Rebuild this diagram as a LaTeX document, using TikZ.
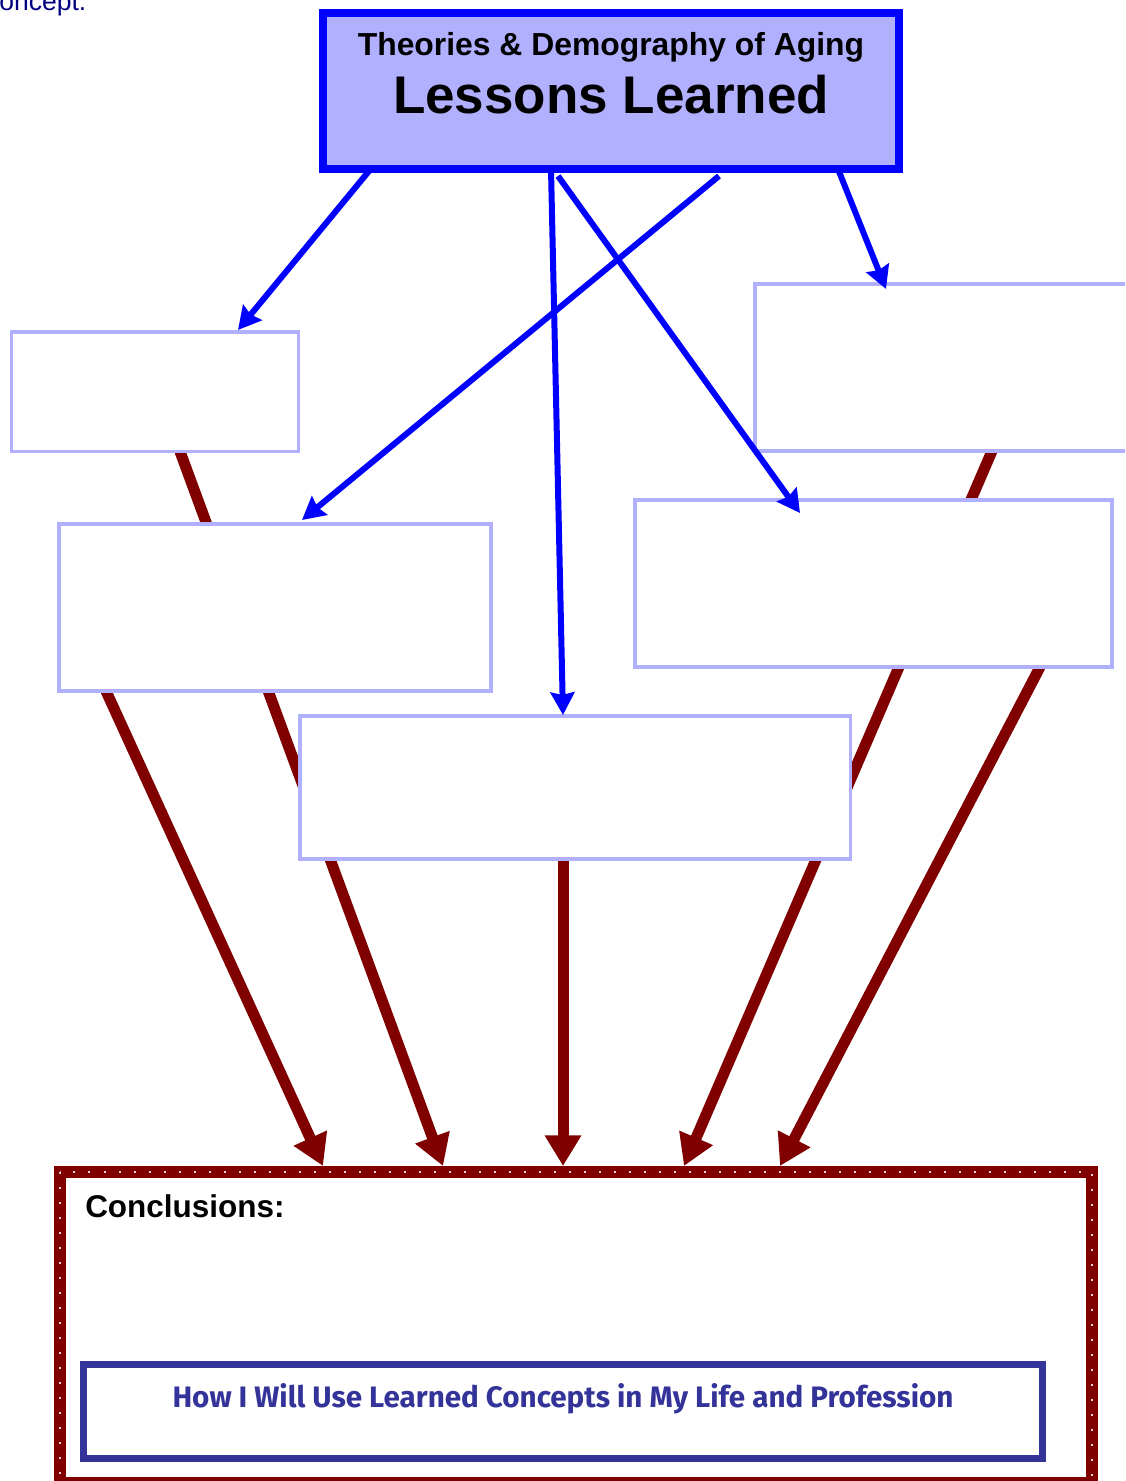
\documentclass[tikz,border=0pt]{standalone}
\usepackage{fontspec}
\setmainfont{Liberation Sans}
\newfontfamily\comicfont{Fira Sans}
\usetikzlibrary{arrows.meta,calc}
\definecolor{lav}{RGB}{176,176,255}
\definecolor{pureblue}{RGB}{0,0,255}
\definecolor{darkred}{RGB}{128,0,0}
\definecolor{navyblue}{RGB}{0,0,128}
\definecolor{indigo}{RGB}{51,51,153}
\definecolor{dotcol}{RGB}{235,205,205}
\pgfdeclarelayer{background}
\pgfsetlayers{background,main}
\begin{document}
\begin{tikzpicture}[x=0.75pt,y=-0.75pt,
  blank/.style={rectangle, draw=lav, line width=2.6pt, fill=white, inner sep=0pt, outer sep=0pt},
  titlebox/.style={rectangle, draw=pureblue, line width=6pt, fill=lav, inner sep=0pt, outer sep=0pt},
  conclbox/.style={rectangle, draw=darkred, line width=9pt, fill=white, inner sep=0pt, outer sep=0pt},
  usebox/.style={rectangle, draw=indigo, line width=5.25pt, fill=white, inner sep=0pt, outer sep=0pt},
  bluearrow/.style={draw=pureblue, line width=4.5pt, -{Stealth[length=17pt,width=18pt,inset=2pt]}},
  redarrow/.style={draw=darkred, line width=8.25pt, -{Triangle[length=23pt,width=26pt]}},
]
\useasboundingbox (0,0) rectangle (1125,1481);
\clip (0,0) rectangle (1125,1481);

% top-left cut text
\node[anchor=base west, inner sep=0pt, text=navyblue, font=\fontsize{19.9pt}{24pt}\selectfont] (cut) at (-1,10) {oncept.};

% boxes
\node[titlebox, minimum width=432pt, minimum height=117pt] (title) at (611,91) {};
\node[anchor=base, inner sep=0pt, font=\bfseries\fontsize{23.9pt}{28pt}\selectfont] (tl1) at (611,55) {Theories \& Demography of Aging};
\node[anchor=base, inner sep=0pt, font=\bfseries\fontsize{39.75pt}{46pt}\selectfont] (tl2) at (611,113) {Lessons Learned};

\node[blank, minimum width=215.25pt, minimum height=89.6pt] (b1) at (155,391.75) {};
\node[blank, minimum width=324pt, minimum height=125.25pt] (b2) at (275,607.5) {};
\node[blank, minimum width=412.9pt, minimum height=107.25pt] (b3) at (575.25,787.5) {};
\node[blank, minimum width=357.75pt, minimum height=125.25pt] (b4) at (873.5,583.5) {};
\node[blank, minimum width=285pt, minimum height=125.25pt] (b5) at (945,367.5) {};

% conclusions box
\node[conclbox, minimum width=774pt, minimum height=233.25pt] (concl) at (575.5,1327.5) {};
\draw[dotcol, line width=1.5pt, dash pattern=on 1.5pt off 9.75pt] (concl.north west) rectangle (concl.south east);
\node[anchor=base west, inner sep=0pt, font=\bfseries\fontsize{23.6pt}{28pt}\selectfont] (clab) at (85,1217) {Conclusions:};
\node[usebox, minimum width=719.25pt, minimum height=70.5pt] (use) at (563,1411.5) {};
\node[anchor=base, inner sep=0pt, text=indigo, font=\comicfont\bfseries\fontsize{22.2pt}{26pt}\selectfont] (usetext) at (563,1407) {How I Will Use Learned Concepts in My Life and Profession};

% red connectors (behind boxes)
\begin{pgfonlayer}{background}
\draw[redarrow] ($(b2.south west)+(47,0)$) -- ($(concl.north west)+(263.5,-6)$);
\draw[redarrow] ($(b1.south west)+(168.5,0)$) -- ($(concl.north west)+(383.5,-6)$);
\draw[redarrow] ($(b3.south)+(-12.25,0)$) -- ($(concl.north west)+(503.5,-6)$);
\draw[redarrow] ($(b5.south west)+(237,0)$) -- ($(concl.north west)+(624.5,-6)$);
\draw[redarrow] ($(b4.south west)+(405,0)$) -- ($(concl.north west)+(720.5,-6)$);
\end{pgfonlayer}

% blue connectors
\draw[bluearrow] ($(title.south west)+(46,2)$) -- ($(b1.north west)+(226.5,-2)$);
\draw[bluearrow] ($(title.south west)+(396,7)$) -- ($(b2.north west)+(243,-4)$);
\draw[bluearrow] ($(title.south west)+(228,0)$) -- ($(b3.north west)+(263,-1)$);
\draw[bluearrow] ($(title.south west)+(235,7)$) -- ($(b4.north west)+(165,13)$);
\draw[bluearrow] ($(title.south west)+(515,0)$) -- ($(b5.north west)+(131,5)$);
\end{tikzpicture}
\end{document}
